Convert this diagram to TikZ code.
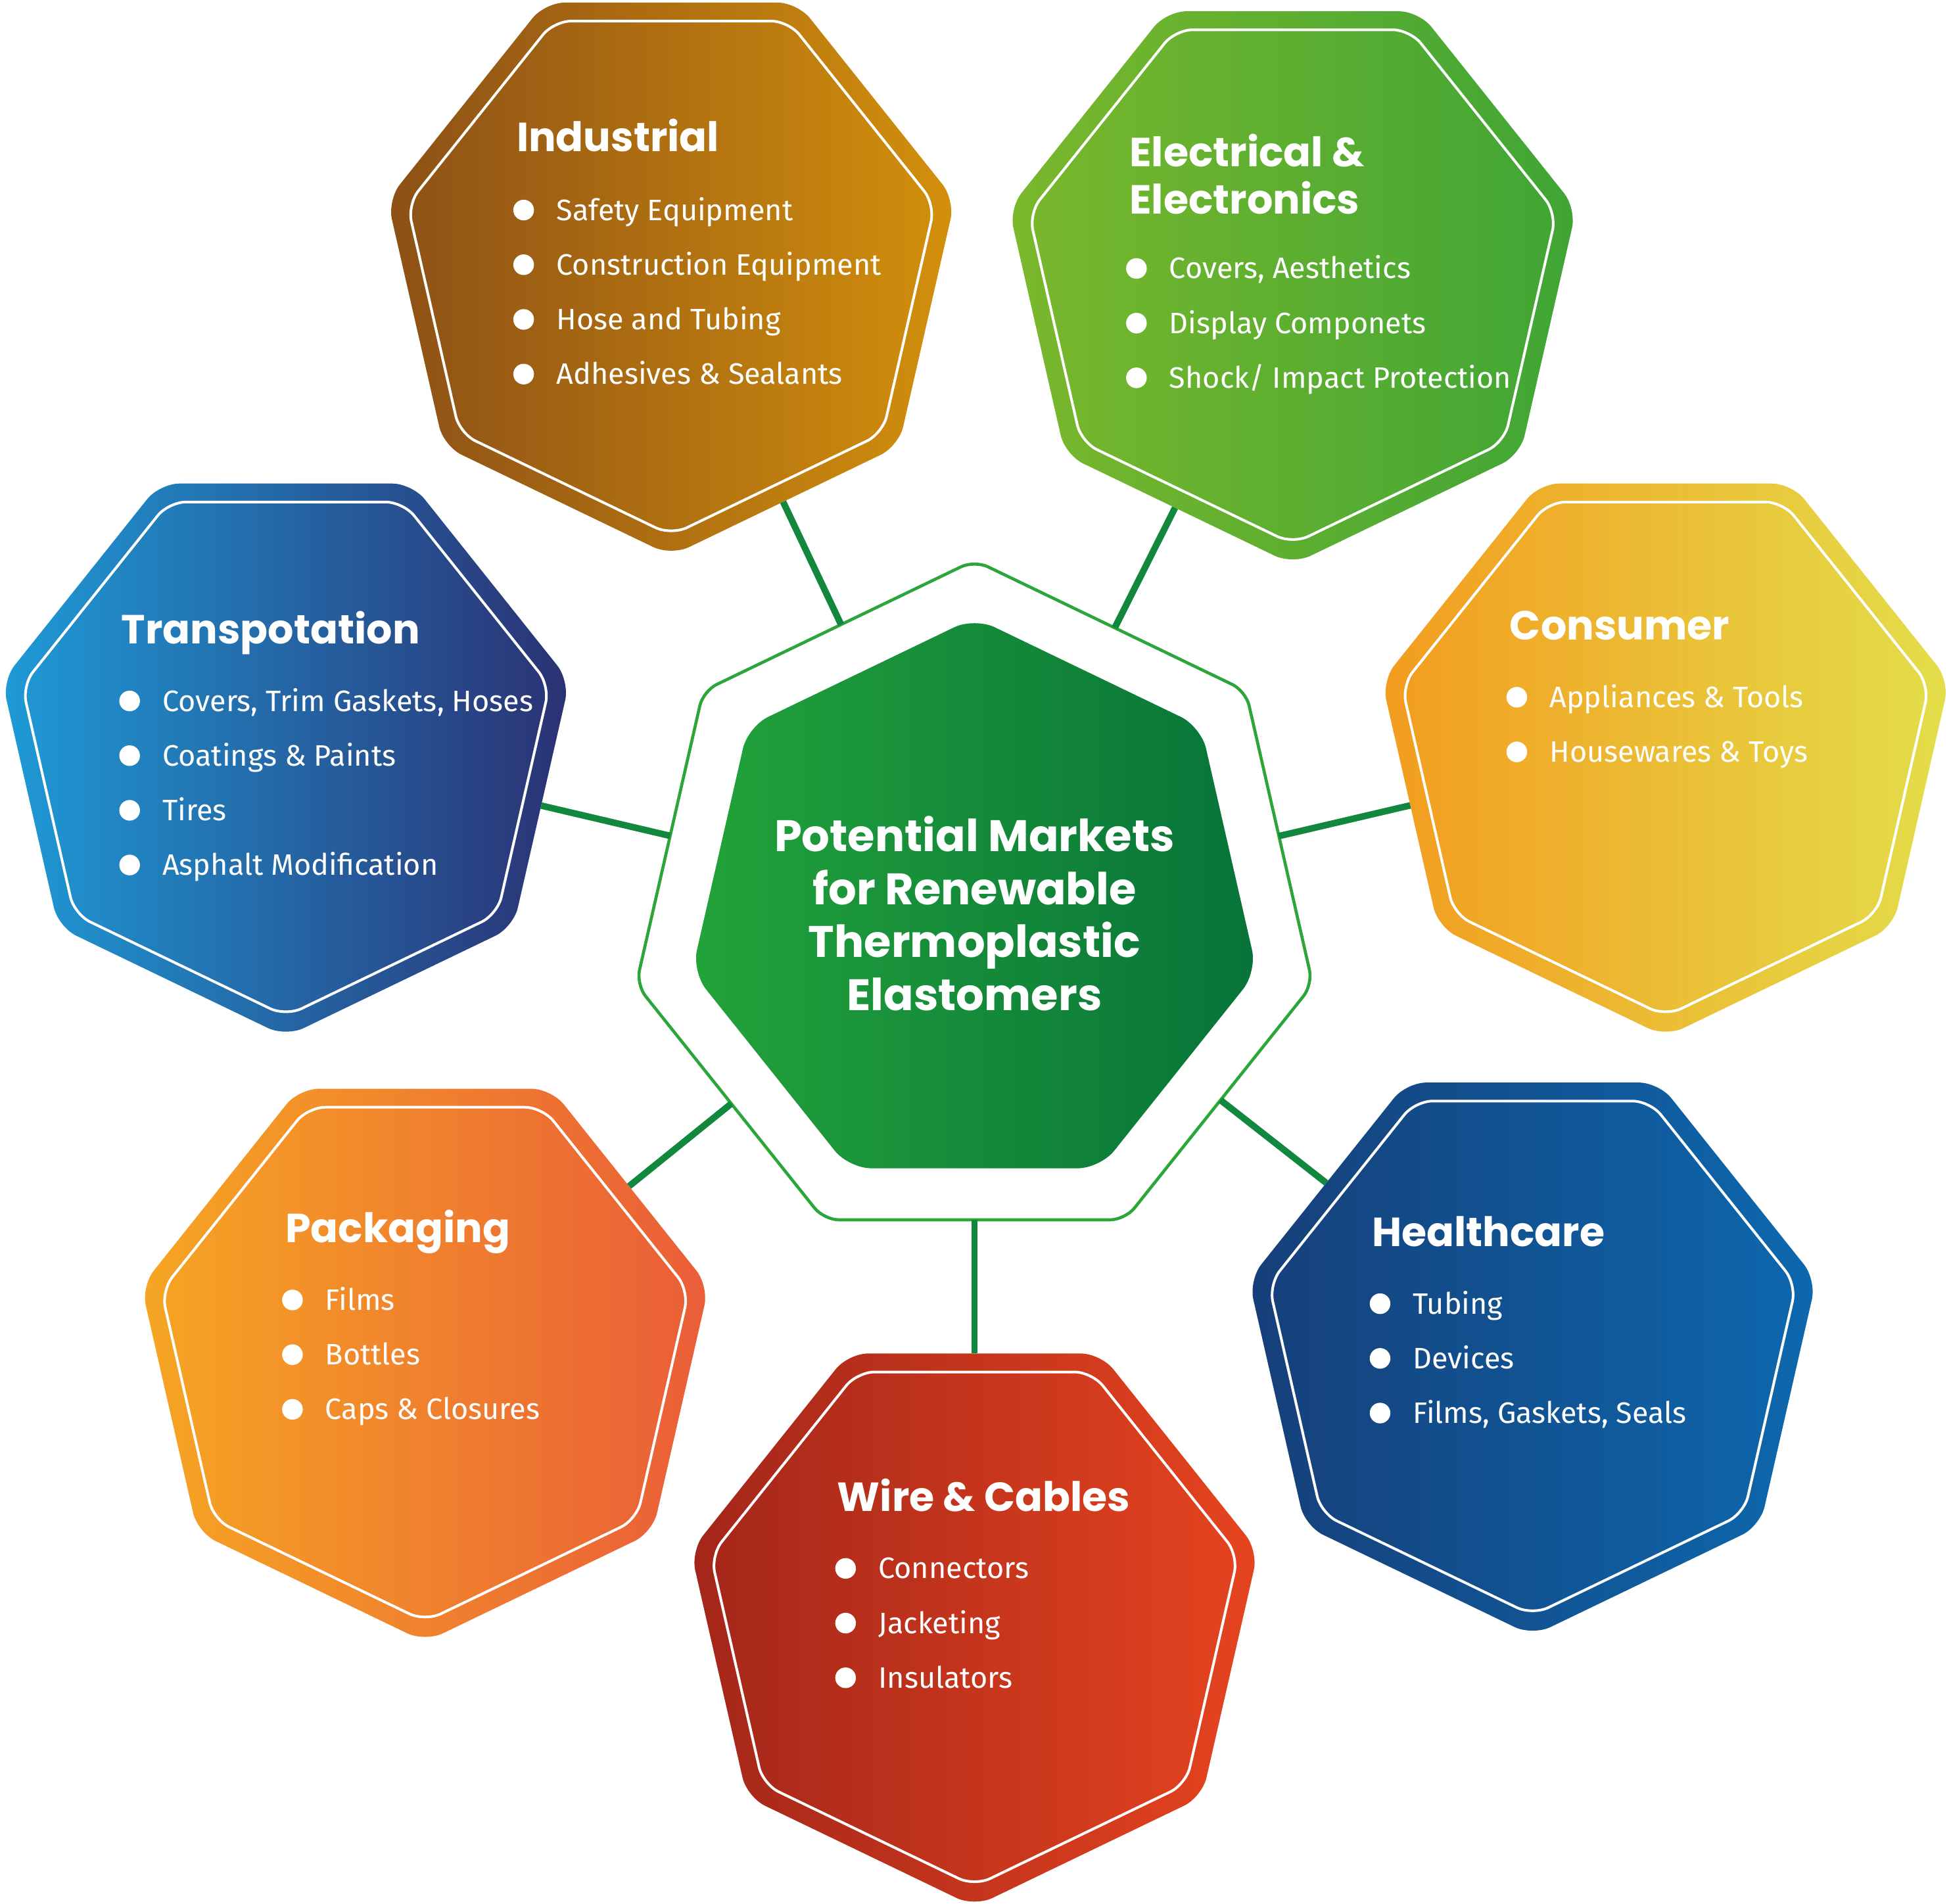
\documentclass[tikz,border=0pt]{standalone}
\usepackage{fontspec}
\setmainfont{Fira Sans}
\newfontfamily\headfont{Poppins}
\usetikzlibrary{shapes.geometric}
\usetikzlibrary{positioning}

\definecolor{indLeft}{HTML}{8C5016}
\definecolor{indRight}{HTML}{D3900C}
\definecolor{eleLeft}{HTML}{7BB82C}
\definecolor{eleRight}{HTML}{3FA535}
\definecolor{traLeft}{HTML}{1E9BD7}
\definecolor{traRight}{HTML}{2B3173}
\definecolor{conLeft}{HTML}{F39C1F}
\definecolor{conRight}{HTML}{E3DE4A}
\definecolor{pacLeft}{HTML}{F6A623}
\definecolor{pacRight}{HTML}{EA5D38}
\definecolor{heaLeft}{HTML}{163F79}
\definecolor{heaRight}{HTML}{0D68AE}
\definecolor{wirLeft}{HTML}{A3261A}
\definecolor{wirRight}{HTML}{E6441F}
\definecolor{midLeft}{HTML}{23A33A}
\definecolor{midRight}{HTML}{077339}
\definecolor{ringgreen}{HTML}{2CA63B}
\definecolor{linkgreen}{HTML}{12883E}

\begin{document}
\begin{tikzpicture}[x=0.01cm, y=-0.01cm,
  hepta/.style={regular polygon, regular polygon sides=7, inner sep=0pt, outer sep=0pt},
  market/.style 2 args={hepta, shape border rotate=180, minimum size=4.68cm, rounded corners=0.16cm, left color=#1, right color=#2},
  rim/.style={hepta, shape border rotate=180, minimum size=4.35cm, rounded corners=0.14cm, draw=white, line width=0.6pt},
  title/.style={anchor=base west, inner sep=0pt, text=white, font=\headfont\bfseries\fontsize{9.3}{10.9}\selectfont},
  item/.style={anchor=west, inner sep=0pt, text=white, font=\fontsize{6.77}{8.1}\selectfont, text height=4.66pt, text depth=0pt, label={[dot, xshift=-0.167cm]west:{}}},
  dot/.style={circle, fill=white, minimum size=0.166cm, inner sep=0pt},
  link/.style={linkgreen, line width=1.5pt}]
\useasboundingbox (0,0) rectangle (1568,1532);

% centre
\node[hepta, minimum size=5.58cm, rounded corners=0.12cm, draw=ringgreen, line width=0.7pt] (ring) at (784,730) {};
\node[hepta, minimum size=4.66cm, rounded corners=0.18cm, left color=midLeft, right color=midRight] (mid) at (784,730) {};
\node[text=white, align=center, font=\headfont\bfseries\fontsize{10.1}{12.1}\selectfont] (midT) at (784,735) {Potential Markets\\for Renewable\\Thermoplastic\\Elastomers};

% markets
\node[market={indLeft}{indRight}] (ind) at (540,213) {};
\node[rim] (indRim) at (540,213) {};
\node[market={eleLeft}{eleRight}] (ele) at (1040,220) {};
\node[rim] (eleRim) at (1040,220) {};
\node[market={traLeft}{traRight}] (tra) at (230,600) {};
\node[rim] (traRim) at (230,600) {};
\node[market={conLeft}{conRight}] (con) at (1340,600) {};
\node[rim] (conRim) at (1340,600) {};
\node[market={pacLeft}{pacRight}] (pac) at (342,1087) {};
\node[rim] (pacRim) at (342,1087) {};
\node[market={heaLeft}{heaRight}] (hea) at (1233,1082) {};
\node[rim] (heaRim) at (1233,1082) {};
\node[market={wirLeft}{wirRight}] (wir) at (784,1300) {};
\node[rim] (wirRim) at (784,1300) {};

% links
\draw[link] (ring) -- (ind);
\draw[link] (ring) -- (ele);
\draw[link] (ring) -- (tra);
\draw[link] (ring) -- (con);
\draw[link] (ring) -- (pac);
\draw[link] (ring) -- (hea);
\draw[link] (ring) -- (wir);

% industrial
\node[title] (indT) at (415,122) {Industrial};
\node[item] (ind1) at (447,169) {Safety Equipment};
\node[item] (ind2) at (447,213) {Construction Equipment};
\node[item] (ind3) at (447,257) {Hose and Tubing};
\node[item] (ind4) at (447,301) {Adhesives \& Sealants};

% electrical
\node[title, align=left, anchor=north west] (eleT) at (908,107) {Electrical \&\\Electronics};
\node[item] (ele1) at (940,216) {Covers, Aesthetics};
\node[item] (ele2) at (940,260) {Display Componets};
\node[item] (ele3) at (940,304) {Shock/ Impact Protection};

% transportation
\node[title] (traT) at (97,518) {Transpotation};
\node[item] (tra1) at (130,564) {Covers, Trim Gaskets, Hoses};
\node[item] (tra2) at (130,608) {Coatings \& Paints};
\node[item] (tra3) at (130,652) {Tires};
\node[item] (tra4) at (130,696) {Asphalt Modification};

% consumer
\node[title] (conT) at (1214,515) {Consumer};
\node[item] (con1) at (1246,561) {Appliances \& Tools};
\node[item] (con2) at (1246,605) {Housewares \& Toys};

% packaging
\node[title] (pacT) at (229,1000) {Packaging};
\node[item] (pac1) at (261,1046) {Films};
\node[item] (pac2) at (261,1090) {Bottles};
\node[item] (pac3) at (261,1134) {Caps \& Closures};

% healthcare
\node[title] (heaT) at (1103,1003) {Healthcare};
\node[item] (hea1) at (1136,1049) {Tubing};
\node[item] (hea2) at (1136,1093) {Devices};
\node[item] (hea3) at (1136,1137) {Films, Gaskets, Seals};

% wire and cables
\node[title] (wirT) at (673,1216) {Wire \& Cables};
\node[item] (wir1) at (706,1262) {Connectors};
\node[item] (wir2) at (706,1306) {Jacketing};
\node[item] (wir3) at (706,1350) {Insulators};
\end{tikzpicture}
\end{document}
